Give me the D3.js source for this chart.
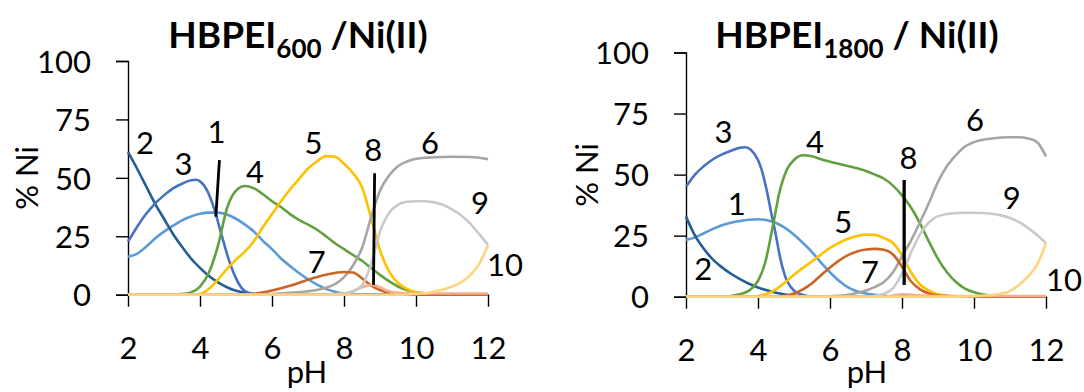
<!DOCTYPE html>
<html>
<head>
<meta charset="utf-8">
<script src="https://cdn.jsdelivr.net/npm/d3@7"></script>
<style>
  html, body { margin: 0; padding: 0; background: #fff; }
  svg { display: block; }
  text { font-family: Lato, "Open Sans", sans-serif; fill: #000; }
</style>
</head>
<body>
<svg id="chart" width="1084" height="392"></svg>
<script>
// ---- Species distribution, HBPEI600 / Ni(II) : [pH, % Ni] ----
const p600_1 = [[2,16.3],[2.25,17.5],[2.5,20.5],[2.75,24],[3,27],[3.25,29.5],[3.5,31.8],[3.75,33.5],[4,34.6],[4.25,35.1],[4.5,35.1],[4.75,34.3],[5,32.5],[5.25,30],[5.5,27],[5.75,23],[6,19.5],[6.25,15.5],[6.5,12.3],[6.75,9.3],[7,6.6],[7.25,4.3],[7.5,2.5],[7.75,1.3],[8,0.5],[8.5,0.1],[9,0],[12,0]];
const p600_2 = [[2,61],[2.25,54],[2.5,46.5],[2.75,39],[3,32.5],[3.25,26],[3.5,20.5],[3.75,15.5],[4,11.5],[4.25,8],[4.5,5.3],[4.75,3.2],[5,1.7],[5.25,0.8],[5.5,0.3],[6,0],[12,0]];
const p600_3 = [[2,22.7],[2.25,29],[2.5,34.5],[2.75,39],[3,42.5],[3.25,45.5],[3.5,47.5],[3.75,49],[3.9,49.2],[4,48.5],[4.2,44.5],[4.4,36.5],[4.6,25.5],[4.8,15],[5,7],[5.25,1.5],[5.5,0.3],[6,0],[12,0]];
const p600_4 = [[2,0],[3,0],[3.5,0.3],[3.75,1],[4,3.5],[4.25,9.5],[4.5,21],[4.75,37],[5,44.5],[5.25,46.5],[5.5,45.5],[5.75,43],[6,40],[6.25,37.5],[6.5,34.5],[6.75,32],[7,30],[7.25,27.8],[7.5,25],[7.75,22],[8,19.5],[8.25,17],[8.5,14.5],[8.75,11.5],[9,8.5],[9.25,5.8],[9.5,3.5],[9.75,2],[10,1],[10.5,0.3],[11,0],[12,0]];
const p600_5 = [[2,0],[3.5,0],[4,0.3],[4.25,2.5],[4.5,6.5],[4.75,11],[5,15],[5.25,18.5],[5.5,23],[5.75,29],[6,34.5],[6.25,40],[6.5,45],[6.75,49.5],[7,54],[7.25,57],[7.5,59.3],[7.75,59],[8,56],[8.25,52],[8.5,46],[8.75,33],[9,19],[9.25,10],[9.5,5],[9.75,2.5],[10,1],[10.5,0.2],[11,0],[12,0]];
const p600_6 = [[2,0],[5,0],[6,0.3],[6.5,0.8],[7,1.5],[7.5,3],[7.75,4.5],[8,7.5],[8.25,12.5],[8.5,20],[8.75,33],[9,44.5],[9.25,51],[9.5,55],[9.75,57],[10,58.2],[10.5,58.8],[11,59],[11.5,58.9],[12,58]];
const p600_7 = [[2,0],[5,0],[5.5,0.4],[6,1.8],[6.5,3.8],[7,6.4],[7.5,8.5],[8,9.7],[8.25,9.5],[8.5,7],[8.75,4],[9,2],[9.25,0.8],[9.5,0.3],[10,0],[12,0]];
const p600_8 = [[2,0],[7.5,0],[8,0.5],[8.25,1.5],[8.5,3.2],[8.8,4.2],[9,3.2],[9.2,1.7],[9.5,0.8],[10,0.5],[12,0.5]];
const p600_9 = [[2,0],[7.5,0],[8,0.5],[8.25,1.5],[8.5,4],[8.75,13],[9,27],[9.25,35],[9.5,38.5],[9.75,39.8],[10,40],[10.25,40],[10.5,39.5],[10.75,38.5],[11,36.5],[11.25,34],[11.5,30.5],[11.75,26],[12,21.3]];
const p600_10 = [[2,0],[9.5,0],[9.75,0.1],[10,0.3],[10.25,0.6],[10.5,1.2],[10.75,2.2],[11,3.5],[11.25,5.3],[11.5,8.3],[11.75,13],[12,21.3]];

// ---- Species distribution, HBPEI1800 / Ni(II) : [pH, % Ni] ----
const p1800_1 = [[2,23.2],[2.25,24.3],[2.5,26],[2.75,27.8],[3,29.3],[3.25,30.3],[3.5,31],[3.75,31.5],[4,31.7],[4.25,31.3],[4.5,30.2],[4.75,28.2],[5,25.4],[5.25,22],[5.5,18.3],[5.75,14],[6,10],[6.25,6.5],[6.5,3.8],[6.75,2.2],[7,1.3],[7.25,0.8],[7.5,0.4],[8,0],[12,0]];
const p1800_2 = [[2,32.8],[2.25,25],[2.5,19.5],[2.75,15.2],[3,12],[3.25,9.4],[3.5,7.2],[3.75,5.3],[4,3.8],[4.25,2.6],[4.5,1.6],[4.75,0.9],[5,0.4],[5.5,0.1],[6,0],[12,0]];
const p1800_3 = [[2,45],[2.25,50],[2.5,53.5],[2.75,56.3],[3,58.3],[3.25,59.8],[3.5,61],[3.65,61.2],[3.8,60.2],[4,56],[4.1,52],[4.25,43],[4.4,32],[4.5,25],[4.6,17],[4.75,8.5],[5,2.5],[5.25,0.7],[5.5,0.1],[6,0],[12,0]];
const p1800_4 = [[2,0],[3,0],[3.25,0.3],[3.5,1],[3.75,2.5],[4,6.5],[4.2,14],[4.4,28],[4.6,43],[4.8,52],[5,56],[5.25,57.9],[5.5,57.5],[5.75,56.3],[6,55.3],[6.5,53.5],[7,51.5],[7.25,50],[7.5,48.3],[7.75,45.5],[8,41.5],[8.25,36.5],[8.5,30],[8.75,22.5],[9,15.5],[9.25,10],[9.5,6],[9.75,3.3],[10,1.8],[10.5,0.4],[11,0],[12,0]];
const p1800_5 = [[2,0],[3.75,0],[4,0.3],[4.25,1.2],[4.5,3],[4.75,5.8],[5,9],[5.25,11.8],[5.5,14.5],[5.75,17.3],[6,20],[6.25,22],[6.5,23.7],[6.75,24.8],[7,25.4],[7.25,25.3],[7.5,24],[7.75,22],[8,17],[8.25,10],[8.5,5],[8.75,2.5],[9,1],[9.5,0.2],[10,0],[12,0]];
const p1800_6 = [[2,0],[5.5,0],[6,0.2],[6.5,0.8],[7,2.5],[7.25,4],[7.5,6],[7.75,10],[8,16.5],[8.25,23],[8.5,30.5],[8.75,38.5],[9,47],[9.25,53.5],[9.5,58],[9.75,61.5],[10,63.3],[10.5,64.8],[11,65.3],[11.25,65.3],[11.5,64.8],[11.75,63.3],[12,57.5]];
const p1800_7 = [[2,0],[4.5,0],[4.75,0.4],[5,1.3],[5.25,3],[5.5,5.5],[5.75,8.8],[6,12],[6.25,14.8],[6.5,17],[6.75,18.5],[7,19.3],[7.25,19.6],[7.5,19.2],[7.75,17.3],[8,12.3],[8.25,6.3],[8.5,3],[8.75,1.3],[9,0.5],[9.5,0.1],[10,0],[12,0]];
const p1800_8 = [[2,0],[7.5,0],[7.75,0.5],[8,1],[8.25,0.8],[8.5,0.5],[9,0.3],[12,0.3]];
const p1800_9 = [[2,0],[7,0],[7.25,0.3],[7.5,1.2],[7.75,3.5],[8,9.5],[8.25,18],[8.5,25.5],[8.75,30.5],[9,33],[9.5,34.3],[10,34.4],[10.5,34],[10.75,33.3],[11,32.2],[11.25,30.5],[11.5,28.2],[11.75,25.3],[12,21.9]];
const p1800_10 = [[2,0],[9.5,0],[10,0.2],[10.5,0.7],[10.75,1.3],[11,2.3],[11.25,4.8],[11.5,8.3],[11.75,13],[12,21.9]];

// ---- Axis ticks ----
const xTicks = [2, 4, 6, 8, 10, 12];
const yTicks = [0, 25, 50, 75, 100];

// ---- Species numbers written on the curves: text, pH, % Ni ----
const lab600Text = ["2", "3", "1", "4", "5", "7", "8", "6", "9", "10"];
const lab600PH   = [2.47, 3.54, 4.46, 5.53, 7.15, 7.24, 8.81, 10.39, 11.78, 12.47];
const lab600Pct  = [64.8, 56.2, 69.8, 52.6, 64.8, 14.1, 61.9, 64.8, 39.1, 12.7];
const lab1800Text = ["3", "1", "2", "4", "5", "7", "8", "6", "9", "10"];
const lab1800PH   = [3.04, 3.41, 2.48, 5.58, 6.37, 7.11, 8.18, 10.03, 11.05, 12.5];
const lab1800Pct  = [67.6, 38.2, 11.6, 63.5, 30.7, 10.2, 56.7, 72.4, 40.3, 6.8];

// ---- Pointer lines from a number to its curve: [pH1, %1, pH2, %2] ----
const ptr600 = [[4.44, 33.4, 4.54, 57.6], [8.82, 4.2, 8.85, 52]];
const ptr1800 = [[8.06, 4.8, 8.06, 47.8]];

// series colours, species 1..10
const colors = ["#5B9BD5", "#255E91", "#4472C4", "#62A03E", "#FFC000",
                "#A5A5A5", "#CB6526", "#F2AE8E", "#C9C9C9", "#FFD47F"];

const svg = d3.select("#chart");

function panel(cfg) {
  const x = d3.scaleLinear().domain([2, 12]).range(cfg.xr);
  const y = d3.scaleLinear().domain([0, 100]).range(cfg.yr);
  const g = svg.append("g");

  // y axis
  const ya = g.append("g").attr("transform", `translate(${cfg.xr[0]},0)`)
    .call(d3.axisLeft(y).tickValues(yTicks).tickSize(12).tickPadding(25));
  ya.select(".domain").attr("stroke", "#000").attr("stroke-width", 1.4);
  ya.selectAll(".tick line").attr("stroke", "#000").attr("stroke-width", 1.4);
  ya.selectAll(".tick text").attr("font-size", 31).attr("font-family", "Lato")
    .attr("fill", "#000").attr("dy", "0.36em");

  // x axis
  const xa = g.append("g").attr("transform", `translate(0,${cfg.yr[0]})`)
    .call(d3.axisBottom(x).tickValues(xTicks).tickSize(12).tickPadding(30).tickSizeOuter(0));
  xa.select(".domain").attr("stroke", "#000").attr("stroke-width", 1.4);
  xa.selectAll(".tick line").attr("stroke", "#000").attr("stroke-width", 1.4);
  xa.selectAll(".tick text").attr("font-size", 31).attr("font-family", "Lato")
    .attr("fill", "#000");

  // species curves
  const line = d3.line().x(d => x(d[0])).y(d => y(d[1])).curve(d3.curveMonotoneX);
  cfg.series.forEach((s, i) => {
    g.append("path").datum(s)
      .attr("fill", "none")
      .attr("stroke", colors[i])
      .attr("stroke-width", 2.6)
      .attr("stroke-linejoin", "round")
      .attr("d", line);
  });

  // pointer lines
  cfg.ptr.forEach(p => {
    g.append("line")
      .attr("x1", x(p[0])).attr("y1", y(p[1]))
      .attr("x2", x(p[2])).attr("y2", y(p[3]))
      .attr("stroke", "#000").attr("stroke-width", cfg.ptrW);
  });

  // species numbers
  cfg.labText.forEach((t, i) => {
    g.append("text")
      .attr("x", x(cfg.labPH[i])).attr("y", y(cfg.labPct[i]))
      .attr("dy", "0.36em")
      .attr("text-anchor", "middle")
      .attr("font-size", 31)
      .text(t);
  });

  // axis titles
  g.append("text")
    .attr("transform", `translate(${cfg.yTitle[0]},${cfg.yTitle[1]}) rotate(-90)`)
    .attr("text-anchor", "middle").attr("dy", "0.36em")
    .attr("font-size", 31).text("% Ni");
  g.append("text")
    .attr("x", cfg.pHx).attr("y", 383)
    .attr("text-anchor", "middle")
    .attr("font-size", 31).text("pH");

  // title with subscript
  const t = g.append("text")
    .attr("x", cfg.titleX).attr("y", 48)
    .attr("text-anchor", "middle")
    .attr("font-weight", "bold")
    .attr("font-size", 37);
  t.append("tspan").text("HBPEI");
  t.append("tspan").attr("font-size", 26).attr("dy", 10).text(cfg.sub);
  t.append("tspan").attr("dy", -10).text(cfg.tail);
}

panel({
  xr: [128, 488], yr: [294.7, 61],
  series: [p600_1, p600_2, p600_3, p600_4, p600_5, p600_6, p600_7, p600_8, p600_9, p600_10],
  labText: lab600Text, labPH: lab600PH, labPct: lab600Pct,
  ptr: ptr600, ptrW: 2.8,
  yTitle: [27, 178], pHx: 307,
  titleX: 298, sub: "600", tail: " /Ni(II)"
});

panel({
  xr: [686, 1046], yr: [296.7, 52.5],
  series: [p1800_1, p1800_2, p1800_3, p1800_4, p1800_5, p1800_6, p1800_7, p1800_8, p1800_9, p1800_10],
  labText: lab1800Text, labPH: lab1800PH, labPct: lab1800Pct,
  ptr: ptr1800, ptrW: 3.3,
  yTitle: [587, 175], pHx: 867,
  titleX: 857, sub: "1800", tail: " / Ni(II)"
});
</script>
</body>
</html>
